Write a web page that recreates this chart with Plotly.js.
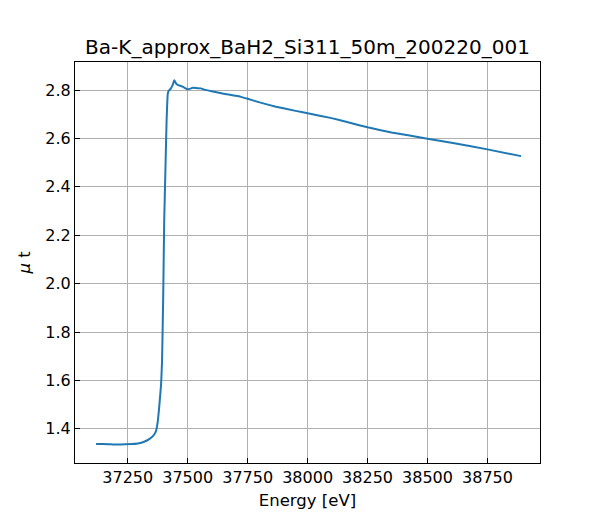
<!DOCTYPE html>
<html>
<head>
<meta charset="utf-8">
<script src="https://cdn.plot.ly/plotly-3.0.1.min.js"></script>
<style>html,body{margin:0;padding:0;background:#fff;}#chart{width:600px;height:520px;}</style>
</head>
<body>
<div id="chart"></div>
<script>
const chartTitle = "Ba-K_approx_BaH2_Si311_50m_200220_001";
const xLabel = "Energy [eV]";
const yLabel = "<i>μ</i> t";

const energy = [37118, 37150, 37180, 37210, 37240, 37265, 37292, 37310, 37330, 37347,
  37361, 37368, 37375, 37382, 37389, 37393, 37398, 37402, 37407, 37412,
  37417, 37421, 37430, 37437, 37444, 37451, 37461, 37479, 37500, 37514,
  37521, 37540, 37555, 37569, 37600, 37650, 37722, 37750, 37800, 37868,
  37950, 38000, 38100, 38180, 38250, 38350, 38500, 38600, 38750, 38890];
const mu = [1.338, 1.337, 1.336, 1.335, 1.336, 1.337, 1.340, 1.344, 1.352, 1.363,
  1.378, 1.392, 1.430, 1.500, 1.585, 1.680, 1.960, 2.260, 2.470, 2.676,
  2.786, 2.797, 2.807, 2.820, 2.841, 2.828, 2.820, 2.814, 2.803, 2.807,
  2.810, 2.808, 2.807, 2.802, 2.795, 2.785, 2.772, 2.764, 2.749, 2.731,
  2.714, 2.704, 2.684, 2.664, 2.646, 2.625, 2.599, 2.582, 2.555, 2.527];

const xTicks = [37250, 37500, 37750, 38000, 38250, 38500, 38750];
const yTicks = [1.4, 1.6, 1.8, 2.0, 2.2, 2.4, 2.6, 2.8];

const trace = {
  x: energy, y: mu, type: 'scatter', mode: 'lines',
  line: {color: '#1f77b4', width: 2, shape: 'spline', smoothing: 0.3}, hoverinfo: 'skip'
};

const axisCommon = {
  showline: true, linecolor: '#000', linewidth: 1.1, mirror: true,
  ticks: 'inside', ticklen: 5, tickwidth: 1.1, tickcolor: '#000',
  showgrid: true, gridcolor: '#b0b0b0', gridwidth: 1.1,
  zeroline: false,
  tickfont: {family: 'DejaVu Sans', size: 16, color: '#000'}
};

const layout = {
  width: 600, height: 520,
  margin: {l: 75, r: 60, t: 62, b: 57},
  paper_bgcolor: '#fff', plot_bgcolor: '#fff',
  showlegend: false,
  font: {family: 'DejaVu Sans', color: '#000'},
  title: {text: chartTitle, font: {family: 'DejaVu Sans', size: 20, color: '#000'},
          xref: 'paper', x: 0.5, xanchor: 'center', y: 1 - 47/520, yanchor: 'middle'},
  xaxis: Object.assign({}, axisCommon, {
    range: [37030, 38969], tickvals: xTicks, ticktext: xTicks.map(String),
    title: {text: xLabel, font: {family: 'DejaVu Sans', size: 16.5, color: '#000'}, standoff: 8}
  }),
  yaxis: Object.assign({}, axisCommon, {
    range: [1.259, 2.916], tickvals: yTicks, ticktext: yTicks.map(v => v.toFixed(1)),
    title: {text: yLabel, font: {family: 'DejaVu Sans', size: 16.5, color: '#000'}, standoff: 10}
  })
};

Plotly.newPlot('chart', [trace], layout, {displayModeBar: false, staticPlot: true});
</script>
</body>
</html>
